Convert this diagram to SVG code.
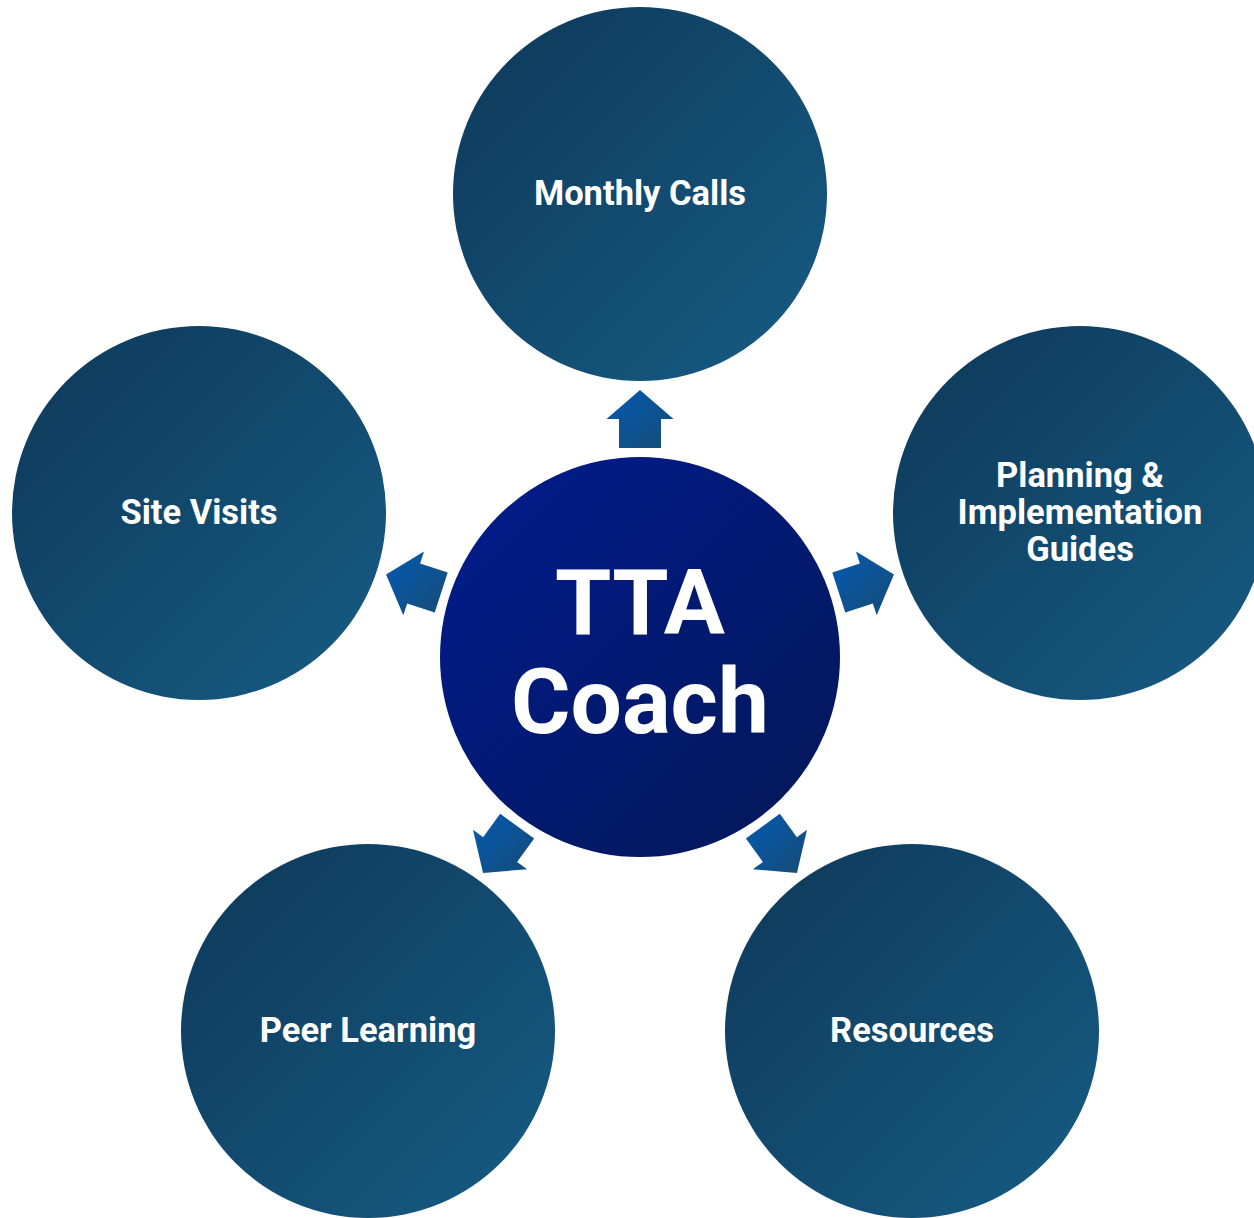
<svg xmlns="http://www.w3.org/2000/svg" width="1254" height="1218" viewBox="0 0 1254 1218">
<defs>
<linearGradient id="gOuter" x1="0" y1="0" x2="1" y2="1">
<stop offset="0" stop-color="#0d3859"/>
<stop offset="1" stop-color="#175c84"/>
</linearGradient>
<linearGradient id="gCenter" x1="0" y1="0" x2="1" y2="1">
<stop offset="0" stop-color="#021c90"/>
<stop offset="1" stop-color="#031755"/>
</linearGradient>
<linearGradient id="gArrow" x1="0" y1="0" x2="1" y2="1">
<stop offset="0" stop-color="#0359b4"/>
<stop offset="1" stop-color="#164c74"/>
</linearGradient>
<style>
.outer{fill:url(#gOuter)}
.lbl{font-family:Roboto,"Liberation Sans",sans-serif;font-weight:bold;font-size:34.5px;fill:#fff;text-anchor:middle}
.big{font-family:Roboto,"Liberation Sans",sans-serif;font-weight:bold;font-size:91px;fill:#fff;text-anchor:middle}
.arr{fill:url(#gArrow)}
</style>
</defs>
<rect width="1254" height="1218" fill="#fff"/>
<g id="connectors">
<polygon class="arr" points="619,448 619,419 606.5,419 640,390 673.5,419 661,419 661,448"/>
<polygon class="arr" points="832.29,572.45 859.87,563.49 856.01,551.6 893.94,574.5 876.71,615.32 872.85,603.43 845.27,612.39"/>
<polygon class="arr" points="434.73,612.39 407.15,603.43 403.29,615.32 386.06,574.5 423.99,551.6 420.13,563.49 447.71,572.45"/>
<polygon class="arr" points="779.84,813.74 796.89,837.2 807,829.85 796.94,873 752.8,869.23 762.91,861.88 745.86,838.42"/>
<polygon class="arr" points="500.16,813.74 483.11,837.2 473,829.85 483.06,873 527.2,869.23 517.09,861.88 534.14,838.42"/>
</g>
<g id="center">
<circle cx="640" cy="657" r="200" fill="url(#gCenter)"/>
<text class="big" x="640" y="634">TTA</text>
<text class="big" x="640" y="733">Coach</text>
</g>
<g id="monthly-calls">
<circle class="outer" cx="640" cy="194" r="187"/>
<text class="lbl" x="640" y="205">Monthly Calls</text>
</g>
<g id="planning">
<circle class="outer" cx="1080" cy="513" r="187"/>
<text class="lbl" x="1080" y="487">Planning &amp;</text>
<text class="lbl" x="1080" y="524">Implementation</text>
<text class="lbl" x="1080" y="561">Guides</text>
</g>
<g id="site-visits">
<circle class="outer" cx="199" cy="513" r="187"/>
<text class="lbl" x="199" y="524">Site Visits</text>
</g>
<g id="peer-learning">
<circle class="outer" cx="368" cy="1031" r="187"/>
<text class="lbl" x="368" y="1042">Peer Learning</text>
</g>
<g id="resources">
<circle class="outer" cx="912" cy="1031" r="187"/>
<text class="lbl" x="912" y="1042">Resources</text>
</g>
</svg>
